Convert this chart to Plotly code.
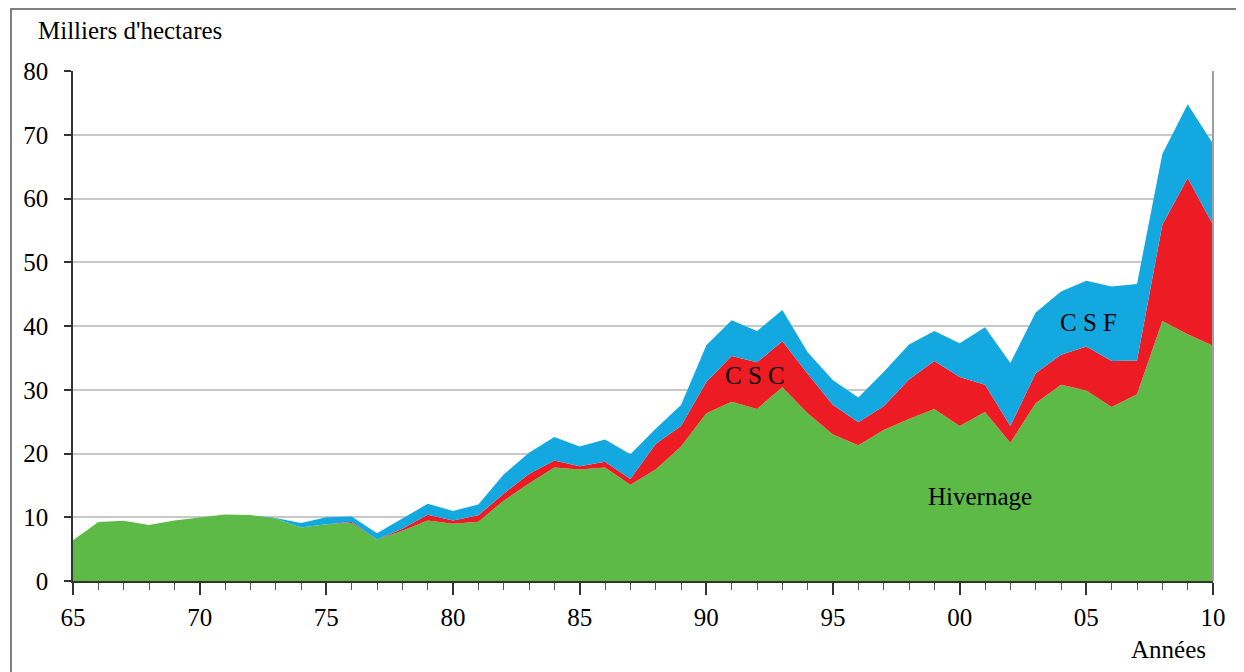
import plotly.graph_objects as go

years = list(range(1965, 2011))
hivernage = [6.4, 9.25, 9.45, 8.8, 9.5, 10.0, 10.45, 10.35, 9.8, 8.4,
             8.9, 9.1, 6.5, 7.9, 9.5, 9.0, 9.3, 12.6, 15.3, 17.8,
             17.5, 17.8, 15.1, 17.5, 21.1, 26.3, 28.1, 27.0, 30.4, 26.3,
             23.0, 21.3, 23.7, 25.4, 27.0, 24.3, 26.5, 21.7, 27.9, 30.8,
             29.9, 27.3, 29.3, 40.8, 38.7, 36.9]
csc_top = [6.4, 9.25, 9.45, 8.8, 9.5, 10.0, 10.45, 10.35, 9.8, 8.4,
           8.9, 9.25, 6.5, 8.2, 10.4, 9.5, 10.3, 13.7, 16.8, 18.9,
           18.0, 18.7, 16.0, 21.5, 24.3, 31.2, 35.3, 34.3, 37.6, 32.5,
           27.6, 24.9, 27.4, 31.6, 34.5, 32.0, 30.8, 24.3, 32.6, 35.5,
           36.8, 34.5, 34.6, 55.9, 63.2, 55.9]
total = [6.4, 9.25, 9.45, 8.8, 9.5, 10.0, 10.45, 10.35, 9.9, 9.1,
         10.0, 10.1, 7.5, 9.8, 12.1, 11.0, 12.0, 16.7, 20.1, 22.6,
         21.1, 22.2, 19.9, 23.9, 27.6, 37.0, 40.9, 39.2, 42.5, 35.9,
         31.5, 28.8, 32.8, 37.1, 39.2, 37.3, 39.8, 34.2, 42.1, 45.4,
         47.1, 46.2, 46.6, 67.0, 74.8, 68.6]
csc = [round(c - h, 2) for c, h in zip(csc_top, hivernage)]
csf = [round(t - c, 2) for t, c in zip(total, csc_top)]

x_tickvals = [1965, 1970, 1975, 1980, 1985, 1990, 1995, 2000, 2005, 2010]
x_ticktext = ["65", "70", "75", "80", "85", "90", "95", "00", "05", "10"]
y_tickvals = [0, 10, 20, 30, 40, 50, 60, 70, 80]

GREEN = "#5DBA47"
RED = "#ED1C24"
BLUE = "#13A9E0"
FONT = "Liberation Serif"
FS = 25

fig = go.Figure()
for name, vals, col in [("Hivernage", hivernage, GREEN), ("C S C", csc, RED), ("C S F", csf, BLUE)]:
    fig.add_trace(go.Scatter(x=years, y=vals, name=name, stackgroup="one",
                             mode="lines", line=dict(width=0, color=col),
                             fillcolor=col, hoverinfo="x+y+name"))

fig.update_layout(
    width=1244, height=672,
    margin=dict(l=65, r=39, t=63, b=99),
    paper_bgcolor="white", plot_bgcolor="white",
    showlegend=False,
    font=dict(family=FONT, size=FS, color="black"),
)
fig.update_xaxes(
    range=[1965, 2010], tickvals=x_tickvals, ticktext=x_ticktext,
    showgrid=False, zeroline=False,
    showline=True, linecolor="#333333", linewidth=1.5,
    ticks="outside", ticklen=12, tickcolor="#333333", tickwidth=1.5,
    minor=dict(dtick=1, tick0=1965, ticks="outside", ticklen=7, tickcolor="#555555", tickwidth=1, showgrid=False),
    tickfont=dict(family=FONT, size=FS, color="black"),
    ticklabelstandoff=1,
)
fig.update_yaxes(
    range=[0, 80], tickvals=y_tickvals,
    showgrid=True, gridcolor="#c8c8c8", gridwidth=1.5,
    zeroline=False,
    showline=True, linecolor="#333333", linewidth=1.5,
    ticks="outside", ticklen=7, tickcolor="#333333", tickwidth=1.5,
    tickfont=dict(family=FONT, size=FS, color="black"),
    ticklabelstandoff=11,
)

# right plot border (grey)
fig.add_shape(type="line", xref="paper", yref="paper", x0=1, x1=1, y0=0, y1=1,
              line=dict(color="#a0a0a0", width=2))
# outer frame
fig.add_shape(type="rect", xref="paper", yref="paper",
              x0=-0.0544, x1=1.0237, y0=-0.25, y1=1.1215,
              line=dict(color="#555555", width=1.5), layer="above")

fig.add_annotation(text="Milliers d'hectares", xref="paper", yref="paper",
                   x=-0.0325, y=1.080, xanchor="left", yanchor="middle",
                   showarrow=False, font=dict(family=FONT, size=FS))
fig.add_annotation(text="Années", xref="paper", yref="paper",
                   x=0.9956, y=-0.135, xanchor="right", yanchor="middle",
                   showarrow=False, font=dict(family=FONT, size=FS))
fig.add_annotation(text="C S C", x=1991.92, y=32.2, showarrow=False,
                   font=dict(family=FONT, size=FS))
fig.add_annotation(text="C S F", x=2005.1, y=40.5, showarrow=False,
                   font=dict(family=FONT, size=FS))
fig.add_annotation(text="Hivernage", x=2000.8, y=13.2, showarrow=False,
                   font=dict(family=FONT, size=FS))

fig.write_html("out.html")
